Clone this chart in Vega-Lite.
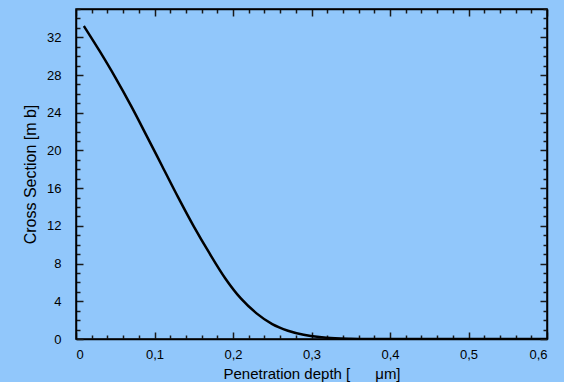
{
  "$schema": "https://vega.github.io/schema/vega-lite/v6.json",
  "width": 471,
  "height": 330,
  "autosize": {"type": "none"},
  "padding": {"left": 76, "top": 9, "right": 17, "bottom": 43},
  "background": "#91c7fb",
  "config": {
    "view": {"stroke": "#000000", "strokeWidth": 1.5},
    "font": "Liberation Sans",
    "axis": {
      "domainColor": "#000000",
      "domainWidth": 1.5,
      "tickColor": "#1a1a1a",
      "tickWidth": 1.5,
      "grid": false,
      "labelFont": "Liberation Sans",
      "labelFontSize": 13,
      "labelColor": "#000000",
      "labelOverlap": false,
      "titleFont": "Liberation Sans",
      "titleFontSize": 15,
      "titleFontWeight": "normal",
      "titleColor": "#000000"
    }
  },
  "data": {
    "values": [
      {"x": 0.01, "y": 33.2},
      {"x": 0.03, "y": 30.55},
      {"x": 0.05, "y": 27.75},
      {"x": 0.07, "y": 24.75},
      {"x": 0.09, "y": 21.55},
      {"x": 0.11, "y": 18.3},
      {"x": 0.13, "y": 15.05},
      {"x": 0.15, "y": 11.95},
      {"x": 0.17, "y": 9.1},
      {"x": 0.19, "y": 6.45},
      {"x": 0.21, "y": 4.3},
      {"x": 0.23, "y": 2.72},
      {"x": 0.25, "y": 1.58},
      {"x": 0.27, "y": 0.88},
      {"x": 0.29, "y": 0.45},
      {"x": 0.31, "y": 0.2},
      {"x": 0.33, "y": 0.07},
      {"x": 0.35, "y": 0.02},
      {"x": 0.37, "y": 0.0},
      {"x": 0.4, "y": 0.0},
      {"x": 0.45, "y": 0.0},
      {"x": 0.5, "y": 0.0},
      {"x": 0.55, "y": 0.0},
      {"x": 0.6, "y": 0.0}
    ]
  },
  "layer": [
    {
      "mark": {"type": "line", "color": "#000000", "strokeWidth": 2.5, "interpolate": "monotone", "clip": true},
      "encoding": {
        "x": {
          "field": "x", "type": "quantitative",
          "scale": {"domain": [0, 0.6], "nice": false, "zero": false},
          "axis": {
            "orient": "bottom",
            "values": [0,0.02,0.04,0.06,0.08,0.1,0.12,0.14,0.16,0.18,0.2,0.22,0.24,0.26,0.28,0.3,0.32,0.34,0.36,0.38,0.4,0.42,0.44,0.46,0.48,0.5,0.52,0.54,0.56,0.58,0.6],
            "tickSize": {"condition": {"test": "abs(datum.value*10 - round(datum.value*10)) < 0.001", "value": -7}, "value": -4},
            "labelExpr": "abs(datum.value*10 - round(datum.value*10)) < 0.001 ? (datum.value == 0 ? '0' : replace(format(datum.value, '.1f'), '.', ',')) : ''",
            "labelPadding": 16,
            "title": "Penetration depth [\u00a0\u00a0\u00a0\u00a0\u00a0\u00a0μm]",
            "titleBaseline": "alphabetic",
            "titleY": 39
          }
        },
        "y": {
          "field": "y", "type": "quantitative",
          "scale": {"domain": [0, 35], "nice": false},
          "axis": {
            "orient": "left",
            "values": [0,1,2,3,4,5,6,7,8,9,10,11,12,13,14,15,16,17,18,19,20,21,22,23,24,25,26,27,28,29,30,31,32,33,34,35],
            "tickSize": {"condition": {"test": "datum.value % 4 == 0", "value": -7}, "value": -4},
            "labelExpr": "datum.value % 4 == 0 ? datum.label : ''",
            "labelPadding": 22,
            "title": "Cross Section [m b]",
            "titleFontSize": 16,
            "titleBaseline": "middle",
            "titleX": -46
          }
        }
      }
    },
    {
      "mark": {"type": "line", "strokeOpacity": 0},
      "encoding": {
        "x": {
          "field": "x", "type": "quantitative",
          "scale": {"domain": [0, 0.6], "nice": false, "zero": false},
          "axis": {
            "orient": "top",
            "values": [0,0.02,0.04,0.06,0.08,0.1,0.12,0.14,0.16,0.18,0.2,0.22,0.24,0.26,0.28,0.3,0.32,0.34,0.36,0.38,0.4,0.42,0.44,0.46,0.48,0.5,0.52,0.54,0.56,0.58,0.6],
            "tickSize": {"condition": {"test": "abs(datum.value*10 - round(datum.value*10)) < 0.001", "value": -7}, "value": -4},
            "labels": false,
            "title": null
          }
        },
        "y": {
          "field": "y", "type": "quantitative",
          "scale": {"domain": [0, 35], "nice": false},
          "axis": {
            "orient": "right",
            "values": [0,1,2,3,4,5,6,7,8,9,10,11,12,13,14,15,16,17,18,19,20,21,22,23,24,25,26,27,28,29,30,31,32,33,34,35],
            "tickSize": {"condition": {"test": "datum.value % 4 == 0", "value": -7}, "value": -4},
            "labels": false,
            "title": null
          }
        }
      }
    }
  ],
  "resolve": {"axis": {"x": "independent", "y": "independent"}}
}
